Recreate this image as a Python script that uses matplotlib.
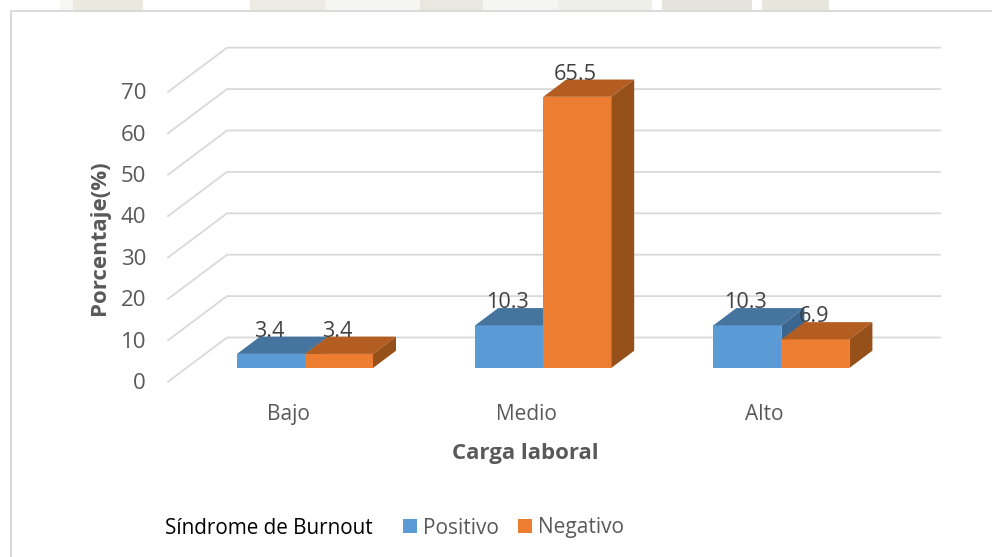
import matplotlib
matplotlib.use('Agg')
import matplotlib.pyplot as plt
from matplotlib.patches import Patch, Polygon, Rectangle

plt.rcParams['font.family'] = ['Open Sans', 'DejaVu Sans']

categories = ['Bajo', 'Medio', 'Alto']
positivo = [3.4, 10.3, 10.3]
negativo = [3.4, 65.5, 6.9]
yticks = [0, 10, 20, 30, 40, 50, 60, 70]

W, H = 992, 557
# bars are laid out in data units, one category = 238.2 px, 10 % = 41.4 px
px_x = 238.2
px_y = 4.14
x0_px = 305
y0_px = 368
bar_w = 68/px_x
depth_x = 23/px_x
depth_y = 17.3/px_y

blue = ['#5B9BD5', '#45759F', '#3A6690']
orange = ['#ED7D31', '#B35E20', '#96501A']
grey = '#595959'


def dx(p):
    return (p-x0_px)/px_x


def dy(p):
    return (y0_px-p)/px_y


def draw_bars(ax, xs, vals, colors):
    ax.bar(xs, vals, width=bar_w, align='edge', color=colors[0], linewidth=0, zorder=3)
    for x, v in zip(xs, vals):
        top = [(x, v), (x+bar_w, v), (x+bar_w+depth_x, v+depth_y), (x+depth_x, v+depth_y)]
        side = [(x+bar_w, 0), (x+bar_w+depth_x, depth_y), (x+bar_w+depth_x, v+depth_y), (x+bar_w, v)]
        ax.add_patch(Polygon(top, closed=True, fc=colors[1], lw=0, zorder=3))
        ax.add_patch(Polygon(side, closed=True, fc=colors[2], lw=0, zorder=3))
        ax.text(x+bar_w/2-1.5/px_x, v+depth_y, str(v), ha='center', va='baseline',
                fontsize=15.6, color='#404040', zorder=5)


fig = plt.figure(figsize=(W/100, H/100), dpi=100)
ax = fig.add_axes([0, 0, 1, 1])
ax.set_xlim(dx(0), dx(W))
ax.set_ylim(dy(H), dy(0))
ax.axis('off')

# watermark showing above the chart frame
for x1, x2, c in [(60, 73, '#F6F6F2'), (73, 143, '#E9E9E0'), (250, 325, '#EBEBE4'), (325, 420, '#F5F5F1'),
                  (420, 483, '#E8E8E0'), (483, 558, '#F5F5F1'), (558, 652, '#EFEFE9'),
                  (662, 752, '#E4E4DC'), (762, 829, '#E6E6DC')]:
    ax.add_patch(Rectangle((dx(x1), dy(11)), (x2-x1)/px_x, 11/px_y, fc=c, lw=0, zorder=0))
ax.add_patch(Rectangle((dx(10.5), dy(H+5)), (W+10)/px_x, (H-6)/px_y, fc='white', ec='#D9D9D9', lw=1.4, zorder=1))

# walls: floor edge to back wall, then along the back
for t in yticks:
    ax.plot([dx(168), dx(227), dx(940)], [t+dy(381.7), t+dy(337.5), t+dy(337.5)],
            color='#D9D9D9', lw=1.3, zorder=2, solid_joinstyle='miter')
    ax.text(dx(146), t+dy(383.5), str(t), ha='right', va='center', fontsize=16, color=grey)

xs = list(range(len(categories)))
draw_bars(ax, [x-bar_w for x in xs], positivo, blue)
draw_bars(ax, xs, negativo, orange)

for x, c in zip(xs, categories):
    ax.text(x-17/px_x, dy(414.5), c, ha='center', va='center', fontsize=15, color=grey)

ax.text(dx(525), dy(454), 'Carga laboral', ha='center', va='center', fontsize=16,
        fontweight='bold', color=grey)
ax.text(dx(99), dy(238), 'Porcentaje(%)', ha='center', va='center', rotation=90, fontsize=16,
        fontweight='bold', color=grey)

ax.text(dx(165), dy(528), 'Síndrome de Burnout', ha='left', va='center', fontsize=14.9, color='black')
handles = [Patch(fc=blue[0], label='Positivo'), Patch(fc=orange[0], label='Negativo')]
ax.legend(handles=handles, ncol=2, loc='center left', bbox_to_anchor=(403/W, 1-528/H), frameon=False,
          fontsize=15, labelcolor=grey, handlelength=0.65, handleheight=0.65, handletextpad=0.3,
          columnspacing=0.95, borderpad=0, borderaxespad=0)

fig.savefig('out.png', dpi=100)
